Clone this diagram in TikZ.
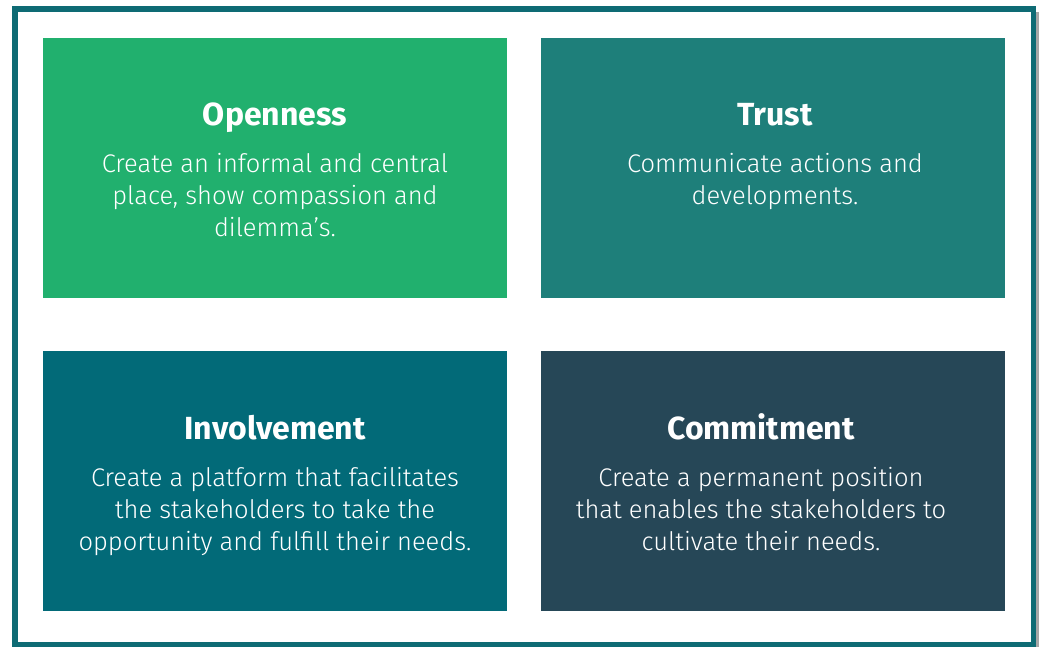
\documentclass[tikz,border=0pt]{standalone}
\usepackage{fontspec}
\setmainfont{Fira Sans}
\newfontfamily\bodyfont{Fira Sans Light}
\definecolor{frameC}{HTML}{0E6B74}
\definecolor{greenC}{HTML}{21B06E}
\definecolor{trustC}{HTML}{1E7F7A}
\definecolor{involC}{HTML}{026A78}
\definecolor{commitC}{HTML}{264757}
\begin{document}
\begin{tikzpicture}[x=1pt,y=-1pt,
  card/.style={draw=none,inner sep=0pt,minimum width=464pt,minimum height=260pt,anchor=north west},
  title/.style={text=white,font=\fontsize{32}{34}\selectfont\bfseries,inner sep=0pt,anchor=base},
  body/.style={text=white,font=\bodyfont\fontsize{25.5}{32}\selectfont,align=center,inner sep=0pt,anchor=north}]
\useasboundingbox (0,0) rectangle (1040,646);
\begin{scope}
\clip (0,0) rectangle (1040,646);
\fill[black!35] (17,12) rectangle (1039,649);
\fill[white] (12,6) rectangle (1036,646.5);
\draw[frameC,line width=5.5pt] (14.75,8.75) rectangle (1033.25,644.5);
\end{scope}
\node[card,fill=greenC] (open) at (43,38) {};
\node[card,fill=trustC] (trust) at (541,38) {};
\node[card,fill=involC] (invol) at (43,351) {};
\node[card,fill=commitC] (commit) at (541,351) {};
\node[title] (t1) at (275,125) {Openness};
\node[title] (t2) at (775,125) {Trust};
\node[title] (t3) at (275,439) {Involvement};
\node[title] (t4) at (761,439) {Commitment};
\node[body] (b1) at (275,153.5) {Create an informal and central\\place, show compassion and\\dilemma’s.};
\node[body] (b2) at (775,153.5) {Communicate actions and\\developments.};
\node[body] (b3) at (275,467.5) {Create a platform that facilitates\\the stakeholders to take the\\opportunity and fulfill their needs.};
\node[body] (b4) at (761,467.5) {Create a permanent position\\that enables the stakeholders to\\cultivate their needs.};
\end{tikzpicture}
\end{document}
